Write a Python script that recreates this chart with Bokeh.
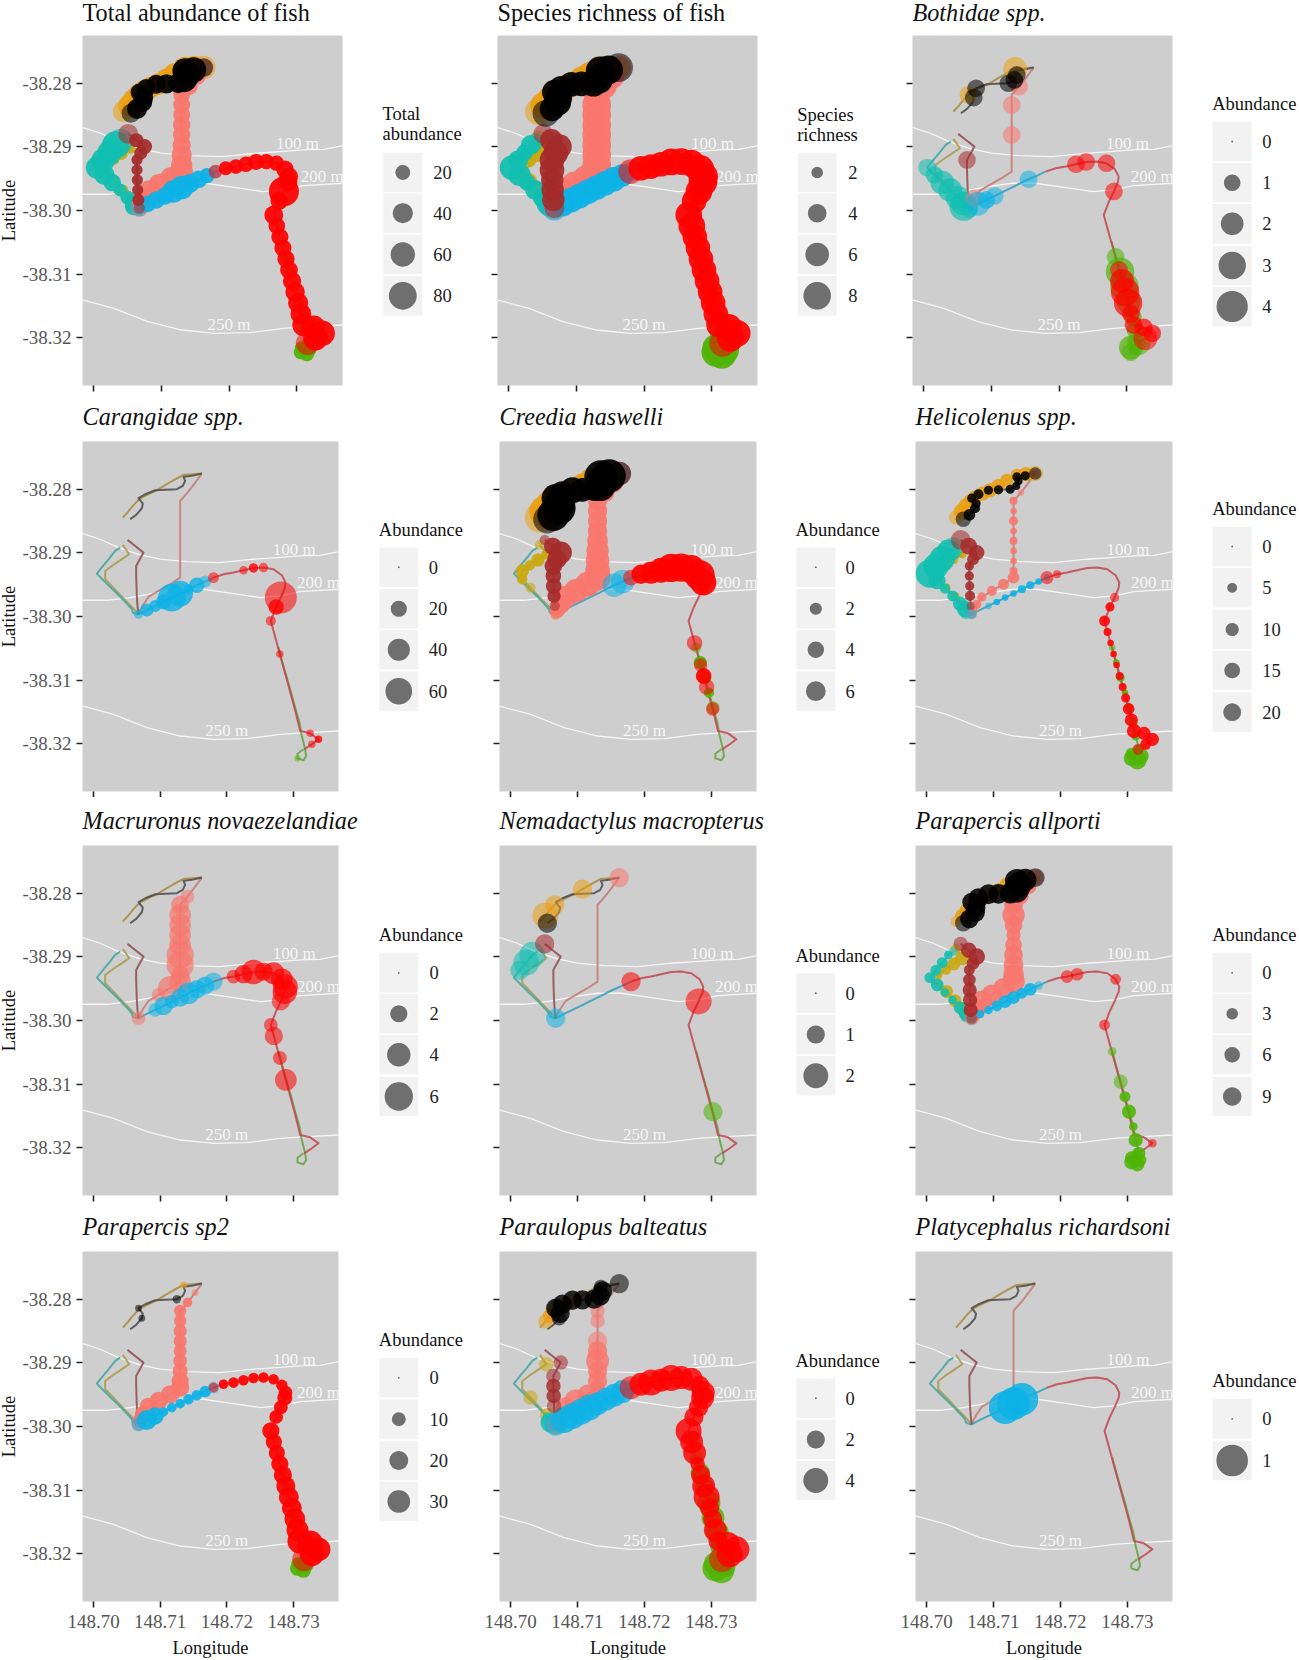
from bokeh.plotting import figure
from bokeh.layouts import row, column
from bokeh.models import Range1d, FixedTicker, NumeralTickFormatter
from bokeh.core.properties import value
from bokeh.embed import file_html
from bokeh.resources import INLINE
import math

SERIF = "Liberation Serif"

# ---------- transect stations (longitude, latitude) ----------
BLACK_LON = [148.7055,148.7064,148.70725,148.7074,148.70675,148.70775,148.70925,148.71075,148.7125,148.7134,148.71375,148.7135,148.71475,148.71625]
BLACK_LAT = [-38.28472,-38.28403,-38.28299,-38.28225,-38.28141,-38.28079,-38.28016,-38.2801,-38.28,-38.27948,-38.27869,-38.27806,-38.2779,-38.27754]
ORANGE_LON = [148.7044,148.7052,148.7059,148.7066,148.70725,148.7084,148.7095,148.71075,148.712,148.7135,148.71485,148.71625]
ORANGE_LAT = [-38.28445,-38.28351,-38.28262,-38.28183,-38.28131,-38.28068,-38.28016,-38.27937,-38.27859,-38.27775,-38.27764,-38.27754]
SALMON_LON = [148.71625,148.71525,148.7141,148.713,148.713,148.713,148.713,148.713,148.713,148.713,148.713,148.713,148.7115,148.70975,148.70825,148.7075,148.707,148.70675]
SALMON_LAT = [-38.27754,-38.27895,-38.28052,-38.28183,-38.28341,-38.28498,-38.28655,-38.28812,-38.28969,-38.29127,-38.29284,-38.29389,-38.29493,-38.29598,-38.29693,-38.29808,-38.29902,-38.29965]
BROWN_LON = [148.7051,148.7063,148.7075,148.70695,148.7064,148.7064,148.70645,148.7065,148.7066,148.70675]
BROWN_LAT = [-38.28796,-38.28896,-38.28996,-38.291,-38.29205,-38.29362,-38.2952,-38.29677,-38.29834,-38.29965]
OLIVE_LON = [148.7044,148.70535,148.7041,148.7029,148.70175,148.70175,148.703,148.70425,148.7055,148.70675]
OLIVE_LAT = [-38.28875,-38.29022,-38.29111,-38.29195,-38.29284,-38.29415,-38.29546,-38.29687,-38.29824,-38.29965]
TEAL_LON = [148.704,148.70325,148.70235,148.7014,148.7005,148.7016,148.70275,148.7039,148.705,148.70575,148.7059,148.70675]
TEAL_LAT = [-38.28917,-38.28969,-38.2909,-38.2921,-38.29326,-38.29441,-38.29561,-38.29677,-38.29797,-38.29886,-38.29939,-38.29975]
BLUE_LON = [148.70675,148.708,148.70925,148.7105,148.71175,148.713,148.71425,148.7155,148.71675,148.718]
BLUE_LAT = [-38.29965,-38.29897,-38.29834,-38.29771,-38.29703,-38.2964,-38.29572,-38.29509,-38.29451,-38.29389]
RED_LON = [148.718,148.7195,148.721,148.7225,148.724,148.7255,148.727,148.72825,148.7288,148.7287,148.7281,148.7274,148.7266,148.72705,148.7275,148.72795,148.7284,148.72885,148.7293,148.72975,148.7302,148.7306,148.731,148.7325,148.73375,148.73275,148.7316]
RED_LAT = [-38.29389,-38.29336,-38.2931,-38.29273,-38.29237,-38.29231,-38.29257,-38.29352,-38.29467,-38.2955,-38.297,-38.2985,-38.3007,-38.30243,-38.30416,-38.30589,-38.30761,-38.30934,-38.31107,-38.3128,-38.31453,-38.31626,-38.31799,-38.31836,-38.3193,-38.32008,-38.32087]
GREEN_LON = [148.72775,148.72835,148.729,148.72965,148.73025,148.7309,148.73125,148.73175,148.7319,148.7315,148.7306,148.7306,148.7315]
GREEN_LAT = [-38.30489,-38.30725,-38.30961,-38.31197,-38.31433,-38.31668,-38.31878,-38.32087,-38.32192,-38.3226,-38.32229,-38.32156,-38.32087]

TRACKS = {
    "orange": (ORANGE_LON, ORANGE_LAT), "olive": (OLIVE_LON, OLIVE_LAT),
    "teal": (TEAL_LON, TEAL_LAT), "salmon": (SALMON_LON, SALMON_LAT),
    "blue": (BLUE_LON, BLUE_LAT), "green": (GREEN_LON, GREEN_LAT),
    "brown": (BROWN_LON, BROWN_LAT), "red": (RED_LON, RED_LAT),
    "black": (BLACK_LON, BLACK_LAT),
}

# ---------- depth contours ----------
C100_LON = [148.6983,148.701,148.70375,148.707,148.71,148.714,148.719,148.724,148.7275,148.731,148.734,148.73685]
C100_LAT = [-38.28692,-38.28786,-38.28917,-38.29032,-38.291,-38.29137,-38.29153,-38.291,-38.29074,-38.29048,-38.29038,-38.2898]
C200_LON = [148.6983,148.702,148.7055,148.7095,148.713,148.7165,148.721,148.725,148.728,148.731,148.73685]
C200_LAT = [-38.29745,-38.29745,-38.29703,-38.29624,-38.29572,-38.29572,-38.2964,-38.29703,-38.29677,-38.29609,-38.29572]
C250_LON = [148.6983,148.703,148.708,148.713,148.718,148.723,148.728,148.732,148.73685]
C250_LAT = [-38.31406,-38.31537,-38.31747,-38.31878,-38.3193,-38.3192,-38.31851,-38.31825,-38.31799]
CONTOUR_LABELS = ["100 m", "200 m", "250 m"]
CONTOUR_LABEL_LON = [148.7301, 148.73375, 148.7200]
CONTOUR_LABEL_LAT = [-38.28943, -38.29467, -38.31788]

LON_TICKS = [148.70, 148.71, 148.72, 148.73]
LAT_TICKS = [-38.28, -38.29, -38.30, -38.31, -38.32]

# ---------- abundance per station, per panel ----------
TOTAL = dict(
    black=[30,35,30,30,25,28,30,32,35,55,65,60,60,30],
    orange=[40,40,40,40,40,40,40,40,45,55,55,50],
    salmon=[30,23,23,23,23,23,25,25,28,35,40,45,45,45,40,35,30,25],
    brown=[34,15,18,12,8,8,8,8,10,8],
    olive=[10,8,10,10,8,5,10,10,10,8],
    teal=[60,70,55,50,45,35,25,12,15,20,25,12],
    blue=[20,22,25,25,45,50,30,25,18,12],
    red=[14,14,16,18,20,18,18,25,30,30,87,25,30,22,24,24,24,26,28,32,35,38,45,50,60,55,50],
    green=[8,8,8,8,8,10,10,10,12,15,15,10,8])
RICHNESS = dict(
    black=[7,6,7,7,6,6,6,6,7,7,7,8,8,8],
    orange=[7,7,6,6,6,6,6,6,6,6,5,5],
    salmon=[6,6,6,7,8,8,8,8,8,8,8,8,7,7,6,6,5,5],
    brown=[4,5,6,6,6,6,5,5,5,4],
    olive=[3,4,3,3,3,3,3,3,3,3],
    teal=[3,4,3,4,6,5,3,4,4,5,4,4],
    blue=[6,6,6,6,6,6,6,6,5,4],
    red=[6,6,6,6,7,7,7,8,8,8,7,6,7,7,6,6,6,6,6,6,6,6,6,7,7,7,7],
    green=[3,3,3,3,3,3,5,7,8,8,8,7,5])
BOTHIDAE = dict(
    black=[0,0,0,1,0,1,0,0,1,1,1,0,0,0],
    orange=[0,0,0,1,0,0,0,0,0,2,0,0],
    salmon=[0,0,1,0,1,0,0,1,0,0,0,0,0,0,0,1,0,0],
    brown=[0,0,0,0,1,0,0,0,0,0],
    teal=[0,0,0,0,1,1,2,2,2,2,3,1],
    blue=[0,2,1,1,0,0,0,1,0,0],
    red=[0,0,0,1,1,0,1,0,0,0,1,0,0,0,0,0,0,1,2,3,3,1,1,1,1,2,0],
    green=[0,1,3,3,2,1,1,2,0,0,1,2,1])
CARANGIDAE = dict(
    blue=[4,10,8,15,60,50,5,15,8,0],
    red=[6,0,0,3,4,4,0,0,0,0,82,15,5,0,0,2,0,0,0,0,0,0,0,2,2,2,0],
    green=[0,0,0,0,0,0,0,0,0,0,1,0,0])
CREEDIA = dict(
    black=[12,16,17,14,12,10,10,8,8,14,15,17,17,8],
    orange=[14,16,14,12,10,8,8,8,8,5,0,0],
    salmon=[8,6,5,5,5,5,5,6,7,8,9,10,9,8,7,5,3,1],
    brown=[1,4,7,5,4,3,3,2,1,0],
    olive=[1,1,2,1,2,1,1,0,0,1],
    blue=[0,0,0,0,0,0,0,8,8,0],
    red=[3,5,7,9,12,12,12,14,10,2,0,0,0,0,3,0,2,3,3,0,2,0,0,0,0,0,0],
    green=[1,2,2,1,2,0,0,0,0,0,0,0,0])
HELICOLENUS = dict(
    black=[12,6,4,3,3,4,3,3,3,2,2,3,3,7],
    orange=[10,12,12,10,10,10,10,8,8,7,10,12],
    salmon=[2,0,1,2,1,3,1,2,1,1,2,6,5,4,3,3,2,4],
    brown=[22,15,12,6,3,3,3,4,2,0],
    olive=[2,2,2,4,5,3,2,3,3,2],
    teal=[25,30,40,40,50,15,4,5,10,14,8,0],
    blue=[4,0,1,1,1,1,2,2,1,1],
    red=[8,2,0,0,0,0,0,0,0,0,3,3,5,2,1,1,1,2,2,3,6,8,10,8,8,5,5],
    green=[1,1,2,1,2,2,3,4,16,18,12,6,3])
MACRURONUS = dict(
    salmon=[0,0,1,2,3,3,3,3,5,5,2,3,4,1,0,0,0,1],
    blue=[0,0,1,2,1,2,3,2,2,2],
    red=[0,0,1,2,4,2,3,3,4,4,2,0,1,2,0,1,0,3,0,0,0,0,0,0,0,0,0])
NEMADACTYLUS = dict(
    black=[1,0,0,0,0,0,0,0,0,0,0,0,0,0],
    orange=[0,2,0,1,0,0,0,1,0,0,0,0],
    salmon=[1,0,0,0,0,0,0,0,0,0,0,0,0,0,0,0,0,0],
    brown=[1,0,0,0,0,0,0,0,0,0],
    teal=[0,2,2,1,0,0,0,0,0,0,0,0],
    blue=[1,0,0,0,0,0,0,0,0,0],
    red=[1,0,0,0,0,0,0,0,0,0,2,0,0,0,0,0,0,0,0,0,0,0,0,0,0,0,0],
    green=[0,0,0,0,1,0,0,0,0,0,0,0,0])
ALLPORTI = dict(
    black=[6,8,9,8,8,9,9,9,10,16,16,14,12,8],
    orange=[2,3,3,2,3,3,3,3,4,4,3,2],
    salmon=[6,5,5,8,12,7,4,6,8,9,10,12,10,10,10,8,5,4],
    brown=[4,5,6,3,2,3,4,4,4,2],
    olive=[2,4,3,2,1,1,3,3,4,3],
    teal=[1,1,2,2,2,3,1,1,3,3,2,3],
    blue=[1,1,1,2,3,3,2,3,1,0],
    red=[0,0,3,3,0,0,0,2,0,0,0,0,2,0,0,0,0,0,0,0,0,0,0,0,1,0,0],
    green=[1,0,4,2,4,1,4,3,3,4,4,3,2])
SP2 = dict(
    black=[0,0,1,0,1,0,0,0,2,0,0,0,0,0],
    orange=[0,0,0,0,0,0,0,0,0,1,0,0],
    salmon=[0,1,3,6,6,7,7,7,8,10,14,16,16,16,16,14,10,8],
    blue=[8,20,14,3,3,3,4,4,5,5],
    red=[3,3,4,4,4,4,4,5,8,10,8,8,14,12,12,14,16,18,20,20,22,25,35,35,30,30,30],
    green=[2,2,3,3,4,4,5,6,8,10,10,6,4])
PARAULOPUS = dict(
    black=[0,0,1,2,2,2,2,2,2,2,2,1,0,2],
    orange=[0,1,1,1,1,1,1,0,0,0,0,0],
    salmon=[0,0,0,1,1,0,2,2,3,2,2,1,2,3,2,1,0,2],
    brown=[0,0,1,0,1,1,1,1,0,0],
    olive=[0,1,0,0,0,0,1,0,1,2],
    teal=[0,0,0,0,0,0,0,0,0,1,2,2],
    blue=[3,4,4,4,4,3,3,3,3,1],
    red=[3,3,4,3,4,3,3,2,3,3,2,2,4,3,3,1,2,3,4,2,2,3,2,3,4,4,4],
    green=[1,2,2,3,3,3,2,3,3,4,4,3,3])
PLATYCEPHALUS = dict(blue=[0,0,0,0,1,1,1,0,0,0])

# ---------- panel definitions ----------
PANELS = [
    [("Total abundance of fish","normal",TOTAL,["Total","abundance"],[20,40,60,80],2.9,0,.92),
     ("Species richness of fish","normal",RICHNESS,["Species","richness"],[2,4,6,8],9.7,1,.92),
     ("Bothidae spp.","italic",BOTHIDAE,["Abundance"],[0,1,2,3,4],14.7,0,.68)],
    [("Carangidae spp.","italic",CARANGIDAE,["Abundance"],[0,20,40,60],3.2,0,.8),
     ("Creedia haswelli","italic",CREEDIA,["Abundance"],[0,2,4,6],7.3,0,.92),
     ("Helicolenus spp.","italic",HELICOLENUS,["Abundance"],[0,5,10,15,20],3.58,0,.88)],
    [("Macruronus novaezelandiae","italic",MACRURONUS,["Abundance"],[0,2,4,6],10.8,0,.68),
     ("Nemadactylus macropterus","italic",NEMADACTYLUS,["Abundance"],[0,1,2],16.3,0,.55),
     ("Parapercis allporti","italic",ALLPORTI,["Abundance"],[0,3,6,9],5.6,0,.88)],
    [("Parapercis sp2","italic",SP2,["Abundance"],[0,10,20,30],3.8,0,.92),
     ("Paraulopus balteatus","italic",PARAULOPUS,["Abundance"],[0,2,4],11.5,0,.82),
     ("Platycephalus richardsoni","italic",PLATYCEPHALUS,["Abundance"],[0,1],29.7,0,.9)],
]
TAIL_ALPHA = {"Platycephalus richardsoni": 0.85}

# ---------- styling / layout (page pixels) ----------
FILL = {"black":"#000000","orange":"#eb9f12","salmon":"#f8766d","brown":"#a52a2a","olive":"#c9a80c",
        "teal":"#10bfb2","blue":"#0cb2e6","red":"#ff0000","green":"#4fb405"}
LINE = {"black":"#4a4a4a","orange":"#a98a3a","salmon":"#c47a72","brown":"#8e4a50","olive":"#a89a4a",
        "teal":"#3fa5a0","blue":"#2f9fbd","red":"#c2454f","green":"#5fa33e"}
PANEL_BG = "#cecece"
CELL_LEFT = [-4, 470, 885]
CELL_RIGHT = [470, 885, 1299]
ROW_TOP = [-14, 386, 791, 1196]      # where each row's figures begin on the page
ROW_BOTTOM = [392, 797, 1202, 1660]  # rows overlap by a few px; their borders are transparent
FRAME_TOP = [35, 441, 845, 1251]
FRAME_BOTTOM = [385, 791, 1195, 1601]
FRAME_X = [[(82,260),(497,260),(912,260)], [(82,256),(499,257),(915,257)],
           [(82,256),(499,257),(915,257)], [(82,256),(499,257),(915,257)]]
RIGHT_PAD = 30
TITLE_GAP = [19, 24, 24, 24]
# legend: title x, title first line y, key centre x, key centre y list, label x (page coords)
LEG = [
    [(382,113,402.3,[172,212.7,254,295.3],432.7),(796.7,114,816.7,[172,212.7,254,295.3],847.7),(1211.7,103,1231.7,[141,182.3,223.3,265,306],1261.7)],
    [(378.3,529,398.3,[566.7,608.3,649.3,690.7],428.3),(795,529,815.3,[566.7,608.3,649.3,690.7],845),(1211.7,508.3,1231.7,[546,587.3,629,670,711.7],1261.7)],
    [(378.3,934.3,398.3,[972.3,1013.3,1054.3,1096],429),(795,955,815.3,[992.7,1034,1075.3],845),(1211.7,934.3,1231.7,[972.3,1013.3,1054.3,1096],1261.7)],
    [(378.3,1339.3,398.3,[1377.3,1418.7,1460,1501],429),(795,1360,815.3,[1397.7,1439,1480],845),(1211.7,1380.7,1231.7,[1418.3,1460],1261.7)],
]

def diam(x, b, xmin):
    return 3 + b * math.sqrt(max(x - xmin, 0))

def point_alphas(vals, ds, band_alpha, tail_alpha):
    """Stations inside a continuous band read as solid; isolated or outsized ones stay translucent."""
    out = []
    for i, d in enumerate(ds):
        nb = [ds[j] for j in (i-1, i+1) if 0 <= j < len(ds) and vals[j] > 0]
        solid = len(nb) == 2 and d < 1.6 * max(nb)
        out.append(band_alpha if solid else tail_alpha)
    return out

def make_panel(r, c, spec):
    title, style, data, _, _, b, xmin, band_alpha = spec
    fl, fw = FRAME_X[r][c]
    L = fl - CELL_LEFT[c]
    T = FRAME_TOP[r] - ROW_TOP[r]
    B = ROW_BOTTOM[r] - FRAME_BOTTOM[r]
    p = figure(width=L+fw+RIGHT_PAD, height=ROW_BOTTOM[r]-ROW_TOP[r],
               min_border_left=L, min_border_right=RIGHT_PAD, min_border_top=T, min_border_bottom=B,
               x_range=Range1d(148.69835,148.73675), y_range=Range1d(-38.3275,-38.2725),
               output_backend="svg", toolbar_location=None, tools="",
               background_fill_color=PANEL_BG, border_fill_color=None)
    p.outline_line_color = None
    p.grid.visible = False
    p.title.text = title
    p.title.text_font = SERIF
    p.title.text_font_style = style
    p.title.text_font_size = "24.2px"
    p.title.text_color = "#111111"
    p.title.standoff = TITLE_GAP[r]
    p.title.align = "left"
    for ax, ticks, has_lab, lab, tick_out, label_gap, title_gap in (
        (p.xaxis, LON_TICKS, r == 3, "Longitude", 6, 7, 7),
        (p.yaxis, LAT_TICKS, c == 0, "Latitude", 6, 5, 0)):
        ax.ticker = FixedTicker(ticks=ticks)
        ax.axis_line_color = None
        ax.major_tick_line_color = "#222222"
        ax.major_tick_line_width = 1.6
        ax.major_tick_in = 0
        ax.major_tick_out = tick_out
        ax.minor_tick_line_color = None
        ax.major_label_text_font = SERIF
        ax.major_label_text_font_size = "19px"
        ax.major_label_text_color = "#555555"
        ax.major_label_standoff = label_gap
        if has_lab:
            ax.formatter = NumeralTickFormatter(format="0.00")
            ax.axis_label = lab
            ax.axis_label_text_font = SERIF
            ax.axis_label_text_font_style = "normal"
            ax.axis_label_text_font_size = "18.5px"
            ax.axis_label_text_color = "#111111"
            ax.axis_label_standoff = title_gap
        else:
            ax.major_label_overrides = {t: "" for t in ticks}
            ax.major_label_standoff = 0
    for lons, lats in ((C100_LON,C100_LAT),(C200_LON,C200_LAT),(C250_LON,C250_LAT)):
        p.line(lons, lats, line_color="white", line_width=1.3, line_alpha=0.8)
    p.text(CONTOUR_LABEL_LON, CONTOUR_LABEL_LAT, text=CONTOUR_LABELS, text_color="white", text_alpha=0.85,
           text_font=value(SERIF), text_font_size="17px", text_align="center", text_baseline="middle")
    for name, (lo, la) in TRACKS.items():
        p.line(lo, la, line_color=LINE[name], line_width=2, line_alpha=0.85, line_join="round")
    tail = TAIL_ALPHA.get(title, 0.55)
    for name, (lo, la) in TRACKS.items():
        vals = data.get(name)
        if not vals:
            continue
        assert len(vals) == len(lo), (title, name, len(vals), len(lo))
        ds_all = [diam(v, b, xmin) for v in vals]
        al_all = point_alphas(vals, ds_all, band_alpha, tail)
        keep = [i for i, v in enumerate(vals) if v > 0]
        p.scatter([lo[i] for i in keep], [la[i] for i in keep], size=[ds_all[i] for i in keep],
                  fill_color=FILL[name], fill_alpha=[al_all[i] for i in keep], line_color=None)
    return p

def make_legend(r, c, spec):
    _, _, _, title_lines, breaks, b, xmin, _ = spec
    fl, fw = FRAME_X[r][c]
    left = fl + fw + RIGHT_PAD
    w = CELL_RIGHT[c] - left
    tx, ty, kx, kys, lx = LEG[r][c]
    # figures in one row share their frame's top and bottom, so the legend's scale maps onto that same frame
    p = figure(width=w, height=ROW_BOTTOM[r]-ROW_TOP[r], x_range=Range1d(left, left+w),
               y_range=Range1d(FRAME_BOTTOM[r], FRAME_TOP[r]),
               min_border_left=0, min_border_right=0,
               min_border_top=FRAME_TOP[r]-ROW_TOP[r], min_border_bottom=ROW_BOTTOM[r]-FRAME_BOTTOM[r],
               output_backend="svg", toolbar_location=None, tools="",
               x_axis_location=None, y_axis_location=None,
               background_fill_color="white", border_fill_color=None)
    p.outline_line_color = None
    p.grid.visible = False
    p.rect([kx]*len(kys), kys, width=39, height=39.5, fill_color="#f2f2f2", line_color=None)
    p.scatter([kx]*len(kys), kys, size=[diam(v, b, xmin) for v in breaks],
              fill_color="#6f6f6f", line_color="white", line_width=1.2, line_alpha=0.8)
    p.text([lx]*len(kys), kys, text=[str(v) for v in breaks], text_font=value(SERIF), text_font_size="18.5px",
           text_color="#222222", text_baseline="middle")
    p.text([tx]*len(title_lines), [ty + 20.5*i for i in range(len(title_lines))], text=title_lines,
           text_font=value(SERIF), text_font_size="18.5px", text_color="#111111", text_baseline="middle")
    return p

rows = []
for r, specs in enumerate(PANELS):
    cells = []
    for c, spec in enumerate(specs):
        cells.append(make_panel(r, c, spec))
        cells.append(make_legend(r, c, spec))
    gap = ROW_TOP[r] - ROW_BOTTOM[r-1] if r else 0
    rows.append(row(*cells, spacing=0, margin=(gap, 0, 0, 0)))
root = column(*rows, spacing=0, margin=(ROW_TOP[0], 0, 0, CELL_LEFT[0]))
open("out.html", "w").write(file_html(root, INLINE))
